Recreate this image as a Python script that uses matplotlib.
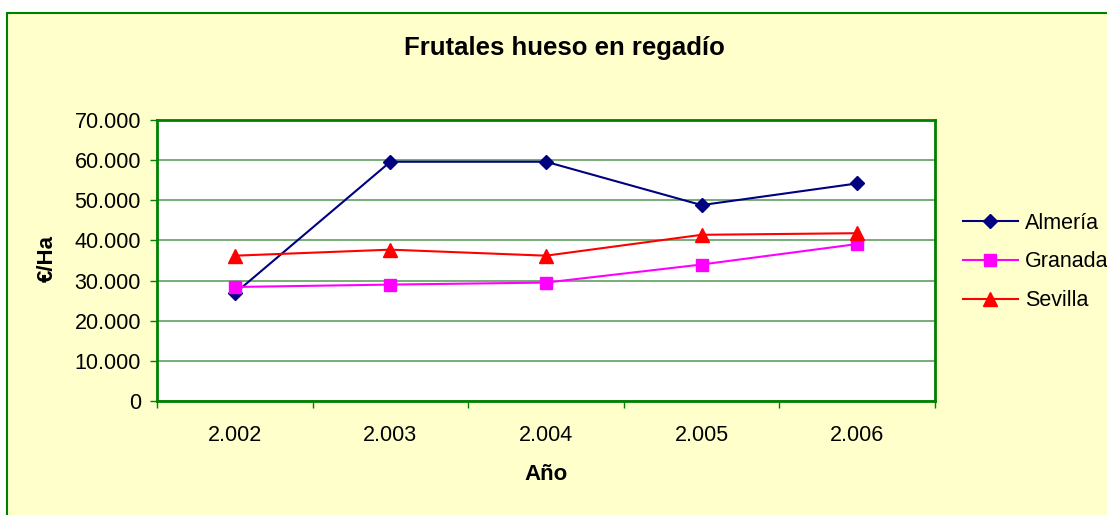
import matplotlib
matplotlib.use("Agg")
import matplotlib.pyplot as plt
from matplotlib.patches import Rectangle
from matplotlib.ticker import FuncFormatter, FixedLocator

years = ["2.002", "2.003", "2.004", "2.005", "2.006"]
almeria = [26800, 59600, 59600, 48800, 54200]
granada = [28400, 29000, 29500, 34000, 39100]
sevilla = [36200, 37700, 36200, 41400, 41800]

plt.rcParams['font.family'] = ['Liberation Sans', 'DejaVu Sans']

fig = plt.figure(figsize=(11.07, 5.15), dpi=100)
fig.patch.set_facecolor('white')
W, H = 1107, 515
bg = Rectangle((7 / W, -0.1), 1.2, 1.1 - 13 / H, transform=fig.transFigure,
               facecolor='#FFFFCC', edgecolor='#008000', linewidth=1.5, zorder=-10)
fig.patches.append(bg)

ax = fig.add_axes([157 / W, 1 - 401 / H, (935 - 157) / W, (401 - 120) / H])
ax.set_facecolor('white')
x = list(range(len(years)))
ax.plot(x, almeria, color='#000080', marker='D', markersize=7.5, linewidth=1.5, label='Almería', zorder=3)
ax.plot(x, granada, color='#FF00FF', marker='s', markersize=9, linewidth=1.5, label='Granada', zorder=3)
ax.plot(x, sevilla, color='#FF0000', marker='^', markersize=10, linewidth=1.5, label='Sevilla', zorder=3)

ax.set_xlim(-0.5, len(years) - 0.5)
ax.set_ylim(0, 70000)
ax.set_yticks(range(0, 70001, 10000))
ax.yaxis.set_major_formatter(FuncFormatter(lambda v, p: "0" if v == 0 else f"{int(v):,}".replace(",", ".")))
ax.set_xticks(x)
ax.set_xticklabels(years)
ax.xaxis.set_minor_locator(FixedLocator([i + 0.5 for i in range(-1, len(years))]))
ax.tick_params(axis='x', which='major', length=0, pad=17, labelsize=15.5)
ax.tick_params(axis='x', which='minor', length=5, color='#008000', width=1)
ax.tick_params(axis='y', length=5, color='#008000', width=1, labelsize=15.5, pad=6.5)
ax.grid(axis='y', color='#60A060', linewidth=1.2)
ax.set_axisbelow(True)
for s in ax.spines.values():
    s.set_color('#008000')
    s.set_linewidth(2)

ax.set_xlabel('Año', fontsize=16, fontweight='bold')
ax.xaxis.label.set_va('center')
ax.xaxis.set_label_coords(0.5, (401 - 475) / 281)
ax.set_ylabel('€/Ha', fontsize=16, fontweight='bold')
ax.yaxis.label.set_va('center')
ax.yaxis.set_label_coords((47.5 - 157) / 778, (401 - 259) / 281)

fig.text(564 / W, 1 - 55 / H, 'Frutales hueso en regadío', fontsize=18.5, fontweight='bold',
         ha='center', va='baseline')

leg = fig.legend(loc='center left', bbox_to_anchor=(963 / W, 1 - 262 / H), frameon=False,
                 fontsize=15.5, handlelength=2.55, labelspacing=0.82, handletextpad=0.33,
                 borderaxespad=0, borderpad=0)

fig.savefig('out.png', dpi=100, facecolor=fig.get_facecolor())
